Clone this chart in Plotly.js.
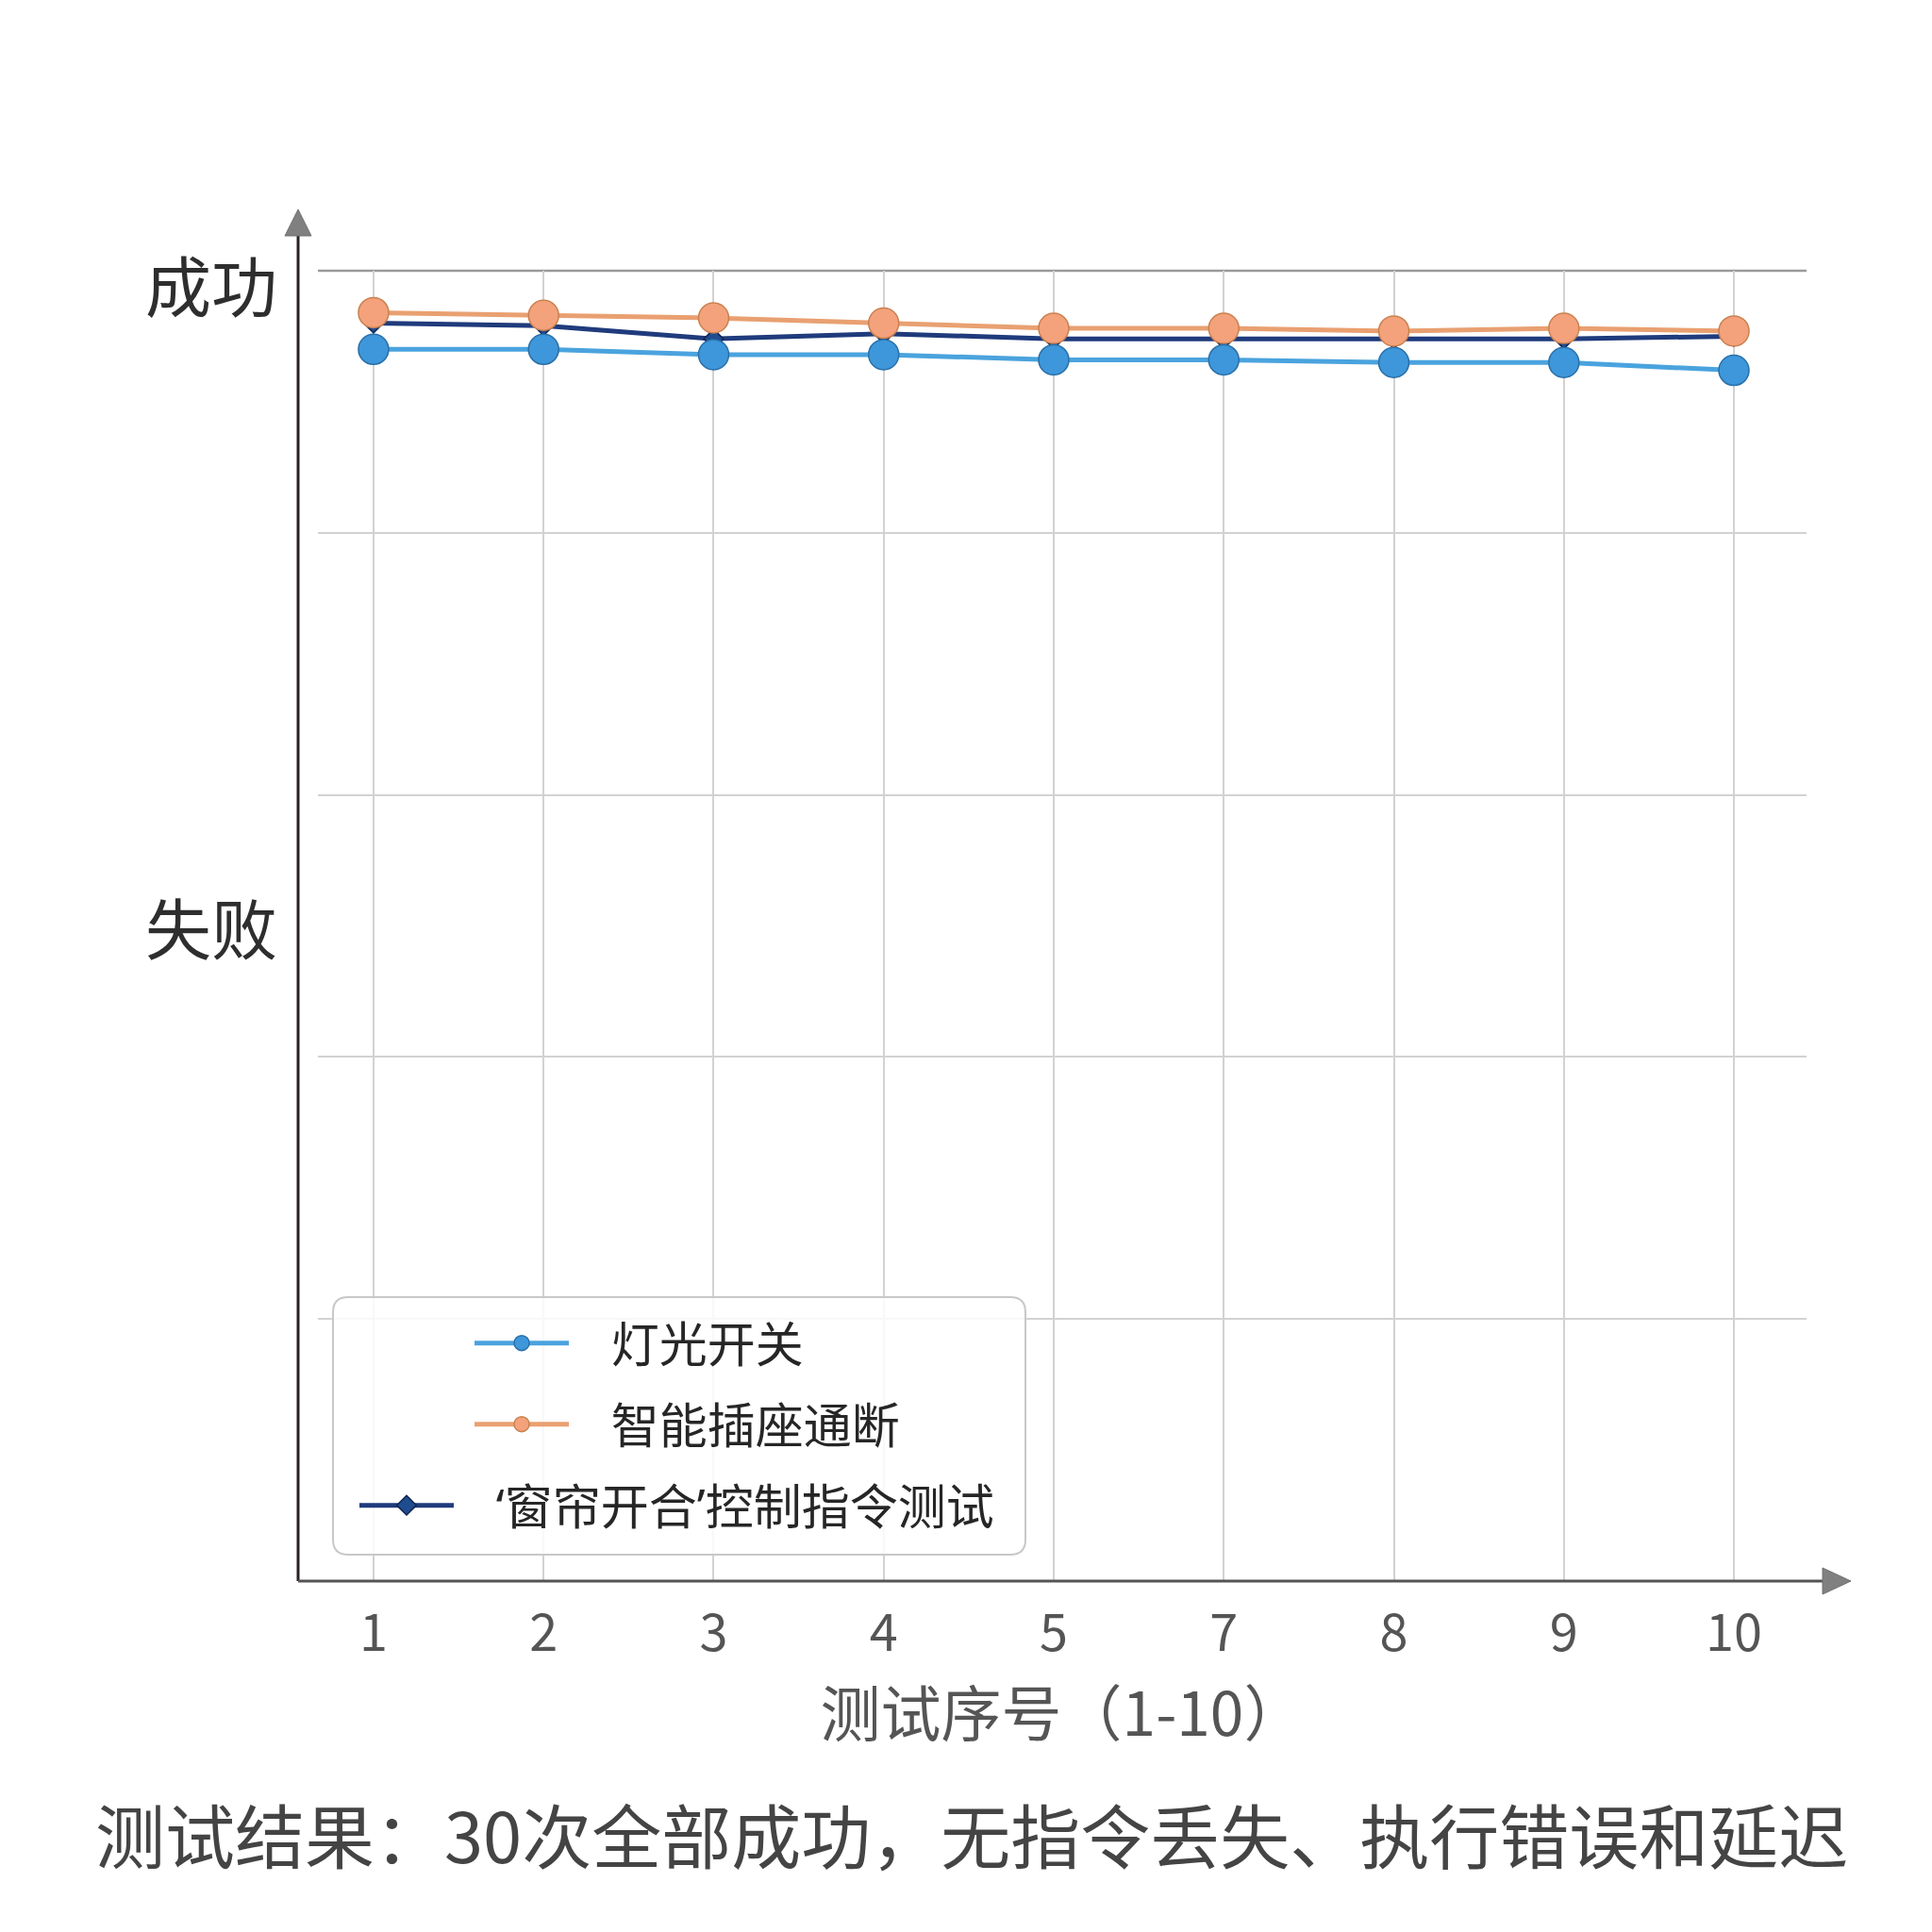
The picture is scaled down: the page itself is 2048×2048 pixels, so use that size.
<!DOCTYPE html>
<html>
<head>
<meta charset="utf-8">
<script src="https://cdn.plot.ly/plotly-3.0.1.min.js"></script>
<style>
  body { margin: 0; background: #fff; }
  #chart { width: 2048px; height: 2048px; }
</style>
</head>
<body>
<div id="chart"></div>
<script>
// test sequence numbers (6 is missing in the source picture)
var testIds = ['1', '2', '3', '4', '5', '7', '8', '9', '10'];
var lightSwitch = [4.70, 4.70, 4.68, 4.68, 4.66, 4.66, 4.65, 4.65, 4.62];
var plugToggle = [4.84, 4.83, 4.82, 4.80, 4.78, 4.78, 4.77, 4.78, 4.77];
var curtainCmd = [4.80, 4.79, 4.74, 4.76, 4.74, 4.74, 4.74, 4.74, 4.75];

var seriesNames = ['灯光开关', '智能插座通断', '‘窗帘开合’控制指令测试'];
var gridVals = [1, 2, 3, 4, 5];
var yLabelVals = [2.48, 4.93];
var yLabelText = ['失败', '成功'];
var xTitle = '测试序号（1-10）';
var footNote = '测试结果：30次全部成功，无指令丢失、执行错误和延迟';

// plot area in pixels
var W = 2048, H = 2048;
var L = 337, R = 1915, T = 287, B = 1676;
function px(x) { return (x - L) / (R - L); }
function py(y) { return (B - y) / (B - T); }

var FONT = '"Noto Sans CJK SC", "Noto Sans", sans-serif';
var LEGEND_FONT = '"Noto Sans", "Noto Sans CJK SC", sans-serif';
var PAD = '\u00a0\u00a0\u00a0';

var traces = [
  {
    x: testIds, y: curtainCmd, name: PAD + seriesNames[2], type: 'scatter', mode: 'lines+markers',
    line: {color: '#1f3b7c', width: 5},
    marker: {symbol: 'diamond', size: 16, color: '#1f4c8f', line: {color: '#0f2450', width: 1.5}},
    legend: 'legend3'
  },
  {
    x: testIds, y: lightSwitch, name: PAD + seriesNames[0], type: 'scatter', mode: 'lines+markers',
    line: {color: '#4aa3de', width: 5},
    marker: {size: 32, color: '#3d97da', line: {color: '#2a6fa8', width: 1.5}},
    legend: 'legend'
  },
  {
    x: testIds, y: plugToggle, name: PAD + seriesNames[1], type: 'scatter', mode: 'lines+markers',
    line: {color: '#e9a071', width: 5},
    marker: {size: 32, color: '#f4a27b', line: {color: '#c9804f', width: 1.5}},
    legend: 'legend2'
  }
];

var legendBase = {
  bgcolor: 'rgba(0,0,0,0)',
  borderwidth: 0,
  font: {family: LEGEND_FONT, size: 51, color: '#262626'},
  itemwidth: 100,
  xanchor: 'left',
  yanchor: 'middle'
};

function rounded(x0, y0, x1, y1, r) {
  var rx = r / (R - L), ry = r / (B - T);
  var a = px(x0), b = px(x1), c = py(y0), d = py(y1);
  return 'M' + (a + rx) + ',' + c + ' L' + (b - rx) + ',' + c +
    ' Q' + b + ',' + c + ' ' + b + ',' + (c - ry) +
    ' L' + b + ',' + (d + ry) + ' Q' + b + ',' + d + ' ' + (b - rx) + ',' + d +
    ' L' + (a + rx) + ',' + d + ' Q' + a + ',' + d + ' ' + a + ',' + (d + ry) +
    ' L' + a + ',' + (c - ry) + ' Q' + a + ',' + c + ' ' + (a + rx) + ',' + c + ' Z';
}

var layout = {
  width: W, height: H,
  margin: {l: L, r: W - R, t: T, b: H - B, pad: 0},
  paper_bgcolor: '#fff',
  plot_bgcolor: '#fff',
  font: {family: FONT, color: '#333'},
  xaxis: {
    type: 'category',
    range: [-0.327, 8.427],
    showgrid: true, gridcolor: '#d2d2d2', gridwidth: 2,
    zeroline: false, showline: false,
    ticks: 'outside', ticklen: 8, tickcolor: 'rgba(0,0,0,0)',
    tickfont: {family: FONT, size: 54, color: '#555'},
    title: {text: xTitle, font: {family: FONT, size: 64, color: '#555'}, standoff: 12}
  },
  yaxis: {
    range: [0, 5],
    tickvals: yLabelVals, ticktext: yLabelText,
    showgrid: false, zeroline: false, showline: false,
    ticks: 'outside', ticklen: 28, tickcolor: 'rgba(0,0,0,0)',
    tickfont: {family: FONT, size: 70, color: '#2e2e2e'},
    minor: {tickvals: gridVals, showgrid: true, gridcolor: '#d2d2d2', gridwidth: 2, ticks: ''}
  },
  showlegend: true,
  legend: Object.assign({x: px(498), y: py(1424)}, legendBase),
  legend2: Object.assign({x: px(498), y: py(1510)}, legendBase),
  legend3: Object.assign({x: px(376), y: py(1596)}, legendBase),
  shapes: [
    // top grid line a bit darker
    {type: 'line', xref: 'paper', yref: 'paper', x0: 0, x1: 1, y0: 1, y1: 1,
      line: {color: '#9a9a9a', width: 2.5}, layer: 'below'},
    // legend frame
    {type: 'path', xref: 'paper', yref: 'paper', path: rounded(353, 1375, 1087, 1648, 16),
      line: {color: '#c8c8c8', width: 2}, fillcolor: 'rgba(255,255,255,0.85)', layer: 'above'},
    // y axis with arrow
    {type: 'line', xref: 'paper', yref: 'paper', x0: px(316), x1: px(316), y0: py(1676), y1: py(246),
      line: {color: '#2a2020', width: 3}},
    {type: 'path', xref: 'paper', yref: 'paper',
      path: 'M' + px(316) + ',' + py(222) + ' L' + px(302) + ',' + py(250) + ' L' + px(330) + ',' + py(250) + ' Z',
      fillcolor: '#808080', line: {color: '#707070', width: 1}},
    // x axis with arrow
    {type: 'line', xref: 'paper', yref: 'paper', x0: px(316), x1: px(1936), y0: py(1676), y1: py(1676),
      line: {color: '#555', width: 3}},
    {type: 'path', xref: 'paper', yref: 'paper',
      path: 'M' + px(1962) + ',' + py(1676) + ' L' + px(1932) + ',' + py(1662) + ' L' + px(1932) + ',' + py(1690) + ' Z',
      fillcolor: '#808080', line: {color: '#707070', width: 1}}
  ],
  annotations: [
    {text: footNote, xref: 'paper', yref: 'paper', x: px(1030), y: py(1942),
      xanchor: 'center', yanchor: 'middle', showarrow: false,
      font: {family: FONT, size: 74, color: '#444'}}
  ]
};

Plotly.newPlot('chart', traces, layout, {displayModeBar: false, staticPlot: true});
</script>
</body>
</html>
